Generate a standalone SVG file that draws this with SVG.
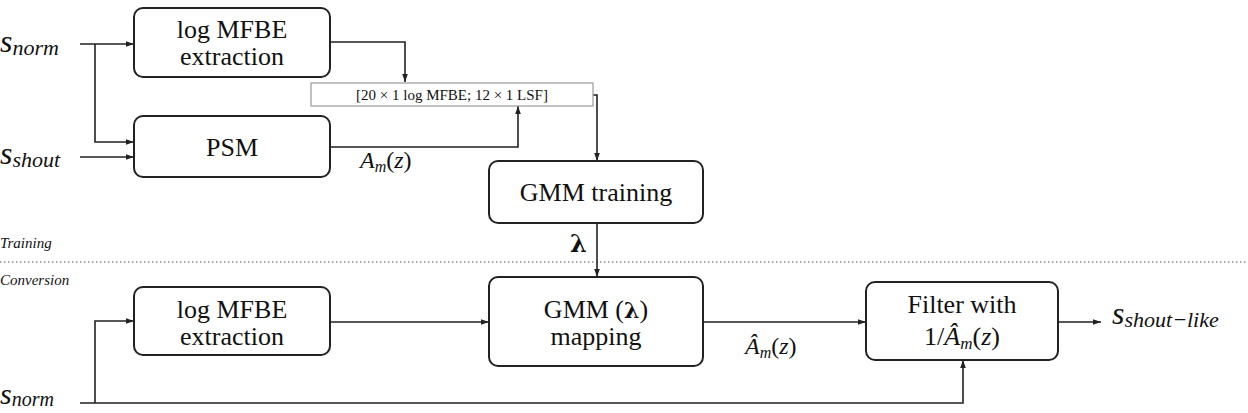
<svg xmlns="http://www.w3.org/2000/svg" width="1248" height="413" viewBox="0 0 1248 413">
<defs>
<marker id="ar" viewBox="0 0 10 10" refX="10" refY="5" markerWidth="8" markerHeight="8" markerUnits="userSpaceOnUse" orient="auto"><path d="M0,1.5 L10,5 L0,8.5 z" fill="#222"/></marker>
</defs>
<style>
.box{fill:#fff;stroke:#222;stroke-width:2}
.t{font-family:"Liberation Serif",serif;font-size:26px;fill:#111;text-anchor:middle}
.m{font-family:"Liberation Serif",serif;font-style:italic;fill:#111}
.c{fill:none;stroke:#222;stroke-width:1.6}
</style>
<rect width="1248" height="413" fill="#fff"/>
<g id="labels">
<text class="m" x="0" y="52" font-size="32">s<tspan font-size="22" dy="3">norm</tspan></text>
<text class="m" x="0" y="164" font-size="32">s<tspan font-size="22" dy="3">shout</tspan></text>
<text class="m" x="0" y="404" font-size="30">s<tspan font-size="20" dy="2">norm</tspan></text>
<text class="m" x="1112" y="324" font-size="32">s<tspan font-size="22" dy="3">shout−like</tspan></text>
<text class="m" x="360" y="168" font-size="24">A<tspan font-size="16" dy="4">m</tspan><tspan dy="-4" font-style="normal">(</tspan>z<tspan font-style="normal">)</tspan></text>
<text class="m" x="745" y="354" font-size="24">Â<tspan font-size="16" dy="4">m</tspan><tspan dy="-4" font-style="normal">(</tspan>z<tspan font-style="normal">)</tspan></text>
<text x="570" y="252" font-family="DejaVu Serif,serif" font-weight="bold" font-size="24" fill="#111">λ</text>
<text class="m" x="0" y="248" font-size="15">Training</text>
<text class="m" x="0" y="285" font-size="15">Conversion</text>
</g>
<line x1="0" y1="262" x2="1248" y2="262" stroke="#555" stroke-width="1" stroke-dasharray="1.5,2.5"/>
<g id="connectors">
<path class="c" d="M80,44 H134" marker-end="url(#ar)"/>
<path class="c" d="M95,44 V142 H134" marker-end="url(#ar)"/>
<path class="c" d="M80,157 H134" marker-end="url(#ar)"/>
<path class="c" d="M330,42 H405 V82" marker-end="url(#ar)"/>
<path class="c" d="M330,147 H518 V106" marker-end="url(#ar)"/>
<path class="c" d="M593,95 H597 V161" marker-end="url(#ar)"/>
<path class="c" d="M597,223 V277" marker-end="url(#ar)"/>
<path class="c" d="M80,403 H963 V360" marker-end="url(#ar)"/>
<path class="c" d="M95,403 V321 H134" marker-end="url(#ar)"/>
<path class="c" d="M330,322 H489" marker-end="url(#ar)"/>
<path class="c" d="M703,322 H866" marker-end="url(#ar)"/>
<path class="c" d="M1058,322 H1101" marker-end="url(#ar)"/>
</g>
<g id="mfbe1"><rect class="box" x="134" y="8" width="196" height="69" rx="9"/><text class="t" x="232" y="38">log MFBE</text><text class="t" x="232" y="65">extraction</text></g>
<g id="psm"><rect class="box" x="134" y="116" width="196" height="61" rx="9"/><text class="t" x="232" y="156">PSM</text></g>
<g id="feat"><rect x="311" y="83" width="282" height="23" fill="#fff" stroke="#999" stroke-width="1.2"/><text x="452" y="100" font-family="Liberation Serif,serif" font-size="15" fill="#111" text-anchor="middle">[20 × 1 log MFBE; 12 × 1 LSF]</text></g>
<g id="gmmtrain"><rect class="box" x="489" y="161" width="214" height="62" rx="9"/><text class="t" x="596" y="201">GMM training</text></g>
<g id="mfbe2"><rect class="box" x="134" y="287" width="196" height="68" rx="9"/><text class="t" x="232" y="318">log MFBE</text><text class="t" x="232" y="345">extraction</text></g>
<g id="gmmmap"><rect class="box" x="489" y="277" width="214" height="89" rx="9"/><text class="t" x="596" y="318">GMM (<tspan font-family="DejaVu Serif,serif" font-weight="bold" font-size="22">λ</tspan>)</text><text class="t" x="596" y="345">mapping</text></g>
<g id="filter"><rect class="box" x="866" y="282" width="192" height="78" rx="9"/><text class="t" x="962" y="313">Filter with</text><text class="t" x="962" y="345">1/<tspan font-style="italic">Â</tspan><tspan font-style="italic" font-size="17" dy="4">m</tspan><tspan dy="-4">(</tspan><tspan font-style="italic">z</tspan>)</text></g>
</svg>
